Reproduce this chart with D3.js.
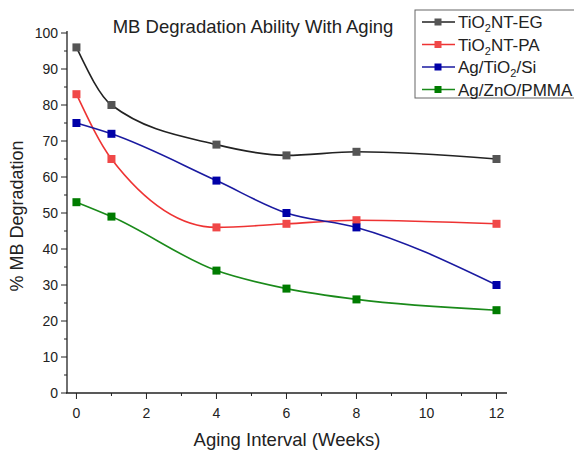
<!DOCTYPE html>
<html>
<head>
<meta charset="utf-8">
<script src="https://cdnjs.cloudflare.com/ajax/libs/d3/7.8.5/d3.min.js"></script>
<style>
  body { margin: 0; background: #fff; }
  text { font-family: "Liberation Sans", Arial, sans-serif; fill: #222; }
</style>
</head>
<body>
<div id="chart"></div>
<script>
var weeks = [0, 1, 4, 6, 8, 12];
var seriesNames = ["TiO2NT-EG", "TiO2NT-PA", "Ag/TiO2/Si", "Ag/ZnO/PMMA"];
var egValues = [96, 80, 69, 66, 67, 65];
var paValues = [83, 65, 46, 47, 48, 47];
var siValues = [75, 72, 59, 50, 46, 30];
var znoValues = [53, 49, 34, 29, 26, 23];
var xTicks = [0, 2, 4, 6, 8, 10, 12];
var yTicks = [0, 10, 20, 30, 40, 50, 60, 70, 80, 90, 100];

var w = 574, h = 450;
var lineColors = ["#222", "#ee3333", "#1a1aa0", "#1a8a1a"];
var markColors = ["#555", "#f04848", "#0000a8", "#007c00"];
var allValues = [egValues, paValues, siValues, znoValues];

var series = seriesNames.map(function(name, i) {
    return { name: name, line: lineColors[i], mark: markColors[i],
             points: weeks.map(function(wk, j) { return { x: wk, y: allValues[i][j] }; }) };
});

var svg = d3.select("#chart").append("svg").attr("width", w).attr("height", h);

var x = d3.scaleLinear().domain([-0.27, 12.3]).range([67, 507]);
var y = d3.scaleLinear().domain([0, 100]).range([393, 33]);

// y axis
var yAxis = svg.append("g").attr("transform", "translate(67,0)");
yAxis.append("line").attr("y1", y(0)).attr("y2", y(100) - 2).attr("stroke", "#222").attr("stroke-width", 1.3);
yAxis.selectAll(".minor").data(d3.range(5, 100, 10)).enter().append("line")
    .attr("x1", -3).attr("x2", 0).attr("y1", y).attr("y2", y).attr("stroke", "#222");
yAxis.selectAll(".major").data(yTicks).enter().append("line")
    .attr("x1", -6).attr("x2", 0).attr("y1", y).attr("y2", y).attr("stroke", "#222");
yAxis.selectAll(".lbl").data(yTicks).enter().append("text")
    .attr("x", -9).attr("y", function(d) { return y(d) + 5; })
    .attr("text-anchor", "end").attr("font-size", "14px").text(function(d) { return d; });

// x axis
var xAxis = svg.append("g").attr("transform", "translate(0,393)");
xAxis.append("line").attr("x1", 66).attr("x2", 507).attr("stroke", "#222").attr("stroke-width", 1.3);
xAxis.selectAll(".minor").data(d3.range(1, 12, 2)).enter().append("line")
    .attr("x1", x).attr("x2", x).attr("y1", 0).attr("y2", 3).attr("stroke", "#222");
xAxis.selectAll(".major").data(xTicks).enter().append("line")
    .attr("x1", x).attr("x2", x).attr("y1", 0).attr("y2", 6).attr("stroke", "#222");
xAxis.selectAll(".lbl").data(xTicks).enter().append("text")
    .attr("x", x).attr("y", 25)
    .attr("text-anchor", "middle").attr("font-size", "14px").text(function(d) { return d; });

// axis titles
svg.append("text").attr("x", 287).attr("y", 446).attr("text-anchor", "middle")
    .attr("font-size", "18.5px").text("Aging Interval (Weeks)");
svg.append("text").attr("transform", "translate(23,216) rotate(-90)").attr("text-anchor", "middle")
    .attr("font-size", "18px").text("% MB Degradation");

// title
svg.append("text").attr("x", 253).attr("y", 33).attr("text-anchor", "middle")
    .attr("font-size", "18.5px").text("MB Degradation Ability With Aging");

// lines
var line = d3.line().x(function(d) { return x(d.x); }).y(function(d) { return y(d.y); })
    .curve(d3.curveMonotoneX);

var groups = svg.selectAll(".series").data(series).enter().append("g");
groups.append("path").attr("d", function(d) { return line(d.points); })
    .attr("fill", "none").attr("stroke", function(d) { return d.line; }).attr("stroke-width", 1.6);
groups.each(function(s) {
    d3.select(this).selectAll("rect").data(s.points).enter().append("rect")
        .attr("x", function(d) { return x(d.x) - 4; }).attr("y", function(d) { return y(d.y) - 4; })
        .attr("width", 8).attr("height", 8).attr("fill", s.mark);
});

// legend
var legend = svg.append("g");
legend.append("rect").attr("x", 415).attr("y", 10).attr("width", 170).attr("height", 88)
    .attr("fill", "#fff").attr("stroke", "#666").attr("stroke-width", 1);
var items = legend.selectAll(".item").data(series).enter().append("g")
    .attr("transform", function(d, i) { return "translate(0," + (22 + i * 22.5) + ")"; });
items.append("line").attr("x1", 422).attr("x2", 455).attr("y1", 0).attr("y2", 0)
    .attr("stroke", function(d) { return d.line; }).attr("stroke-width", 1.6);
items.append("rect").attr("x", 434.5).attr("y", -3.5).attr("width", 7).attr("height", 7)
    .attr("fill", function(d) { return d.mark; });
items.append("text").attr("x", 458).attr("y", 6).attr("font-size", "17px").each(function(d) {
    var t = d3.select(this);
    var parts = d.name.split("2");
    if (parts.length > 1) {
        t.append("tspan").text(parts[0]);
        t.append("tspan").attr("font-size", "11px").attr("dy", 4).text("2");
        t.append("tspan").attr("dy", -4).text(parts[1]);
    } else {
        t.text(d.name);
    }
});
</script>
</body>
</html>
